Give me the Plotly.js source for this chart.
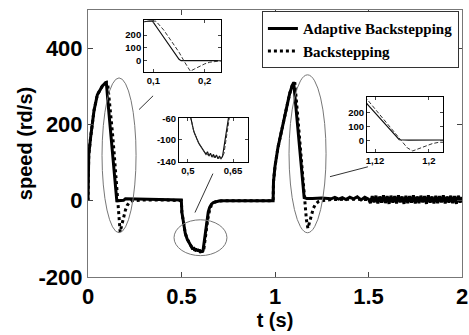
<!DOCTYPE html>
<html>
<head>
<meta charset="utf-8">
<script src="https://cdn.plot.ly/plotly-3.0.1.min.js"></script>
<style>html,body{margin:0;padding:0;background:#fff;}#chart{width:469px;height:335px;}</style>
</head>
<body>
<div id="chart"></div>
<script>
// ---- data ----
var seriesNames = ['Adaptive Backstepping', 'Backstepping'];

var adaptiveT = [0, 0.001, 0.004, 0.014, 0.032, 0.05, 0.077, 0.094, 0.098, 0.11, 0.12, 0.13, 0.14, 0.146, 0.15, 0.154, 0.16, 0.19, 0.2, 0.3, 0.4, 0.499,
  0.502, 0.51, 0.52, 0.53, 0.536, 0.545, 0.55, 0.555, 0.56, 0.565, 0.57, 0.575, 0.58, 0.585, 0.59, 0.595, 0.6, 0.605, 0.61, 0.615,
  0.62, 0.625, 0.63, 0.635, 0.643, 0.65, 0.66, 0.67, 0.68, 0.7, 0.72, 0.8, 0.9, 0.99,
  0.992, 1.0, 1.016, 1.035, 1.052, 1.078, 1.092, 1.1, 1.11, 1.12, 1.13, 1.14, 1.15, 1.156, 1.17, 1.19, 1.2, 1.25,
  1.3, 1.32, 1.34, 1.36, 1.38, 1.4, 1.42, 1.44, 1.46, 1.48, 1.5,
  1.51, 1.52, 1.53, 1.54, 1.55, 1.56, 1.57, 1.58, 1.59, 1.6, 1.61, 1.62, 1.63, 1.64, 1.65, 1.66, 1.67, 1.68, 1.69, 1.7,
  1.71, 1.72, 1.73, 1.74, 1.75, 1.76, 1.77, 1.78, 1.79, 1.8, 1.81, 1.82, 1.83, 1.84, 1.85, 1.86, 1.87, 1.88, 1.89, 1.9,
  1.91, 1.92, 1.93, 1.94, 1.95, 1.96, 1.97, 1.98, 1.99, 2.0];
var adaptiveSpeed = [0, 60, 120, 166, 236, 278, 301, 309, 310, 241, 183, 126, 69, 32, 10, 0, 0, 1, 5, 4, 3, 2,
  -30, -60, -85, -100, -106, -114, -118, -121, -127, -122, -130, -125, -132, -127, -133, -128, -135, -130, -135, -131,
  -112, -92, -72, -55, -30, -18, -9, -5, -3, -1, 0, 0, 0, 0,
  50, 90, 140, 185, 228, 280, 302, 310, 255, 200, 145, 90, 35, 8, 6, 7, 6, 7,
  5, 9, 4, 8, 3, 9, 5, 10, 2, 9, 4,
  -6, 12, -4, 13, -7, 11, -5, 14, -6, 12, -8, 13, -5, 12, -7, 14, -4, 11, -8, 13,
  -6, 12, -5, 14, -7, 11, -6, 13, -4, 12, -8, 14, -5, 11, -7, 13, -6, 12, -4, 14,
  -7, 11, -5, 13, -6, 12, -8, 13, -5, 10];

var backT = [0, 0.001, 0.004, 0.014, 0.032, 0.05, 0.077, 0.094, 0.1, 0.105, 0.12, 0.13, 0.14, 0.15, 0.16, 0.168, 0.172, 0.18, 0.19, 0.2, 0.21, 0.22, 0.235, 0.3, 0.4, 0.499,
  0.502, 0.51, 0.52, 0.53, 0.536, 0.545, 0.55, 0.56, 0.57, 0.58, 0.59, 0.6, 0.61, 0.615,
  0.62, 0.625, 0.63, 0.635, 0.64, 0.65, 0.66, 0.67, 0.68, 0.7, 0.72, 0.8, 0.9, 0.99,
  0.992, 1.0, 1.016, 1.035, 1.052, 1.078, 1.092, 1.1, 1.106, 1.12, 1.13, 1.14, 1.15, 1.16, 1.168, 1.176, 1.185, 1.195, 1.205, 1.215, 1.23, 1.25,
  1.3, 1.4, 1.5, 1.6, 1.7, 1.8, 1.9, 2.0];
var backSpeed = [0, 60, 120, 166, 236, 278, 301, 309, 310, 308, 240, 182, 124, 66, -5, -60, -82, -65, -43, -25, -12, -5, 0, 2, 2, 0,
  -30, -60, -85, -100, -106, -114, -118, -126, -129, -131, -132, -134, -133, -131,
  -125, -105, -85, -66, -50, -25, -12, -6, -3, -1, 0, 0, 0, 0,
  50, 90, 140, 185, 228, 280, 302, 308, 310, 230, 172, 114, 56, -2, -50, -72, -55, -35, -20, -10, -3, 0,
  3, 4, 3, 4, 3, 4, 3, 3];

// tick values and labels
var mainXTicks = [0, 0.5, 1, 1.5, 2], mainXText = ['0', '0.5', '1', '1.5', '2'];
var mainYTicks = [-200, 0, 200, 400], mainYText = ['-200', '0', '200', '400'];
var inset1XTicks = [0.1, 0.2], inset1XText = ['0,1', '0,2'];
var inset1YTicks = [0, 100, 200], inset1YText = ['0', '100', '200'];
var inset2XTicks = [0.5, 0.65], inset2XText = ['0,5', '0,65'];
var inset2YTicks = [-60, -100, -140], inset2YText = ['-60', '-100', '-140'];
var inset3XTicks = [1.12, 1.2], inset3XText = ['1,12', '1,2'];
var inset3YTicks = [0, 100, 200], inset3YText = ['0', '100', '200'];

// ---- traces ----
var traces = [
  {x: adaptiveT, y: adaptiveSpeed, name: seriesNames[0], type: 'scatter', mode: 'lines',
   line: {color: '#000', width: 3}, xaxis: 'x', yaxis: 'y'},
  {x: backT, y: backSpeed, name: seriesNames[1], type: 'scatter', mode: 'lines',
   line: {color: '#000', width: 3, dash: 'dot'}, xaxis: 'x', yaxis: 'y'}
];
var insetAxes = [['x2', 'y2'], ['x3', 'y3'], ['x4', 'y4']];
insetAxes.forEach(function (a) {
  traces.push({x: adaptiveT, y: adaptiveSpeed, type: 'scatter', mode: 'lines', showlegend: false,
    line: {color: '#111', width: 1.2}, xaxis: a[0], yaxis: a[1], hoverinfo: 'skip'});
  traces.push({x: backT, y: backSpeed, type: 'scatter', mode: 'lines', showlegend: false,
    line: {color: '#333', width: 1, dash: '4px,2px'}, xaxis: a[0], yaxis: a[1], hoverinfo: 'skip'});
});

var FONT = 'Liberation Sans, Arial, sans-serif';
function insetAxis(dom, anchor, rng, tv, tt) {
  return {domain: dom, anchor: anchor, range: rng, tickvals: tv, ticktext: tt, ticks: 'inside', ticklen: 3,
    showline: true, linecolor: '#000', linewidth: 1, mirror: 'ticks', showgrid: false, zeroline: false,
    tickfont: {family: FONT, size: 9.5, weight: 'bold', color: '#000'}, fixedrange: true};
}

var ellipseStyle = {color: '#777', width: 1};
var layout = {
  width: 469, height: 335,
  margin: {l: 88, r: 7, t: 10, b: 58},
  paper_bgcolor: '#fff', plot_bgcolor: '#fff',
  font: {family: FONT, color: '#000'},
  showlegend: true,
  legend: {x: 0.465, y: 0.995, xanchor: 'left', yanchor: 'top', bgcolor: '#fff',
    bordercolor: '#333', borderwidth: 1, itemwidth: 30, tracegroupgap: 0,
    font: {family: 'Liberation Serif, Times New Roman, serif', size: 15, weight: 'bold', color: '#000'}},
  xaxis: {domain: [0, 1], anchor: 'y', range: [0, 2], tickvals: mainXTicks, ticktext: mainXText, ticks: 'inside', ticklen: 5,
    showline: true, linecolor: '#777', linewidth: 1, mirror: 'ticks', showgrid: false, zeroline: false,
    tickfont: {family: FONT, size: 22, weight: 'bold', color: '#000'},
    title: {text: 't (s)', font: {family: FONT, size: 20, weight: 'bold', color: '#000'}, standoff: 2}},
  yaxis: {domain: [0, 1], anchor: 'x', range: [-200, 500], tickvals: mainYTicks, ticktext: mainYText, ticks: 'inside', ticklen: 5,
    showline: true, linecolor: '#777', linewidth: 1, mirror: 'ticks', showgrid: false, zeroline: false,
    tickfont: {family: FONT, size: 22, weight: 'bold', color: '#000'},
    title: {text: 'speed (rd/s)', font: {family: FONT, size: 20, weight: 'bold', color: '#000'}, standoff: 0}},
  xaxis2: insetAxis([0.150, 0.356], 'y2', [0.082, 0.232], inset1XTicks, inset1XText),
  yaxis2: insetAxis([0.768, 0.963], 'x2', [-88, 318], inset1YTicks, inset1YText),
  xaxis3: insetAxis([0.243, 0.428], 'y3', [0.47, 0.70], inset2XTicks, inset2XText),
  yaxis3: insetAxis([0.431, 0.596], 'x3', [-141, -59], inset2YTicks, inset2YText),
  xaxis4: insetAxis([0.746, 0.949], 'y4', [1.108, 1.221], inset3XTicks, inset3XText),
  yaxis4: insetAxis([0.468, 0.674], 'x4', [-80, 314], inset3YTicks, inset3YText),
  shapes: [
    {type: 'circle', xref: 'x', yref: 'y', x0: 0.075, x1: 0.257, y0: -84, y1: 322, line: ellipseStyle},
    {type: 'circle', xref: 'x', yref: 'y', x0: 0.46, x1: 0.743, y0: -144, y1: -50, line: ellipseStyle},
    {type: 'circle', xref: 'x', yref: 'y', x0: 1.075, x1: 1.273, y0: -84, y1: 330, line: ellipseStyle},
    {type: 'line', xref: 'x', yref: 'y', x0: 0.273, y0: 239, x1: 0.348, y1: 275, line: {color: '#333', width: 1}},
    {type: 'line', xref: 'x', yref: 'y', x0: 0.572, y0: -31, x1: 0.668, y1: 71, line: {color: '#333', width: 1}},
    {type: 'line', xref: 'x', yref: 'y', x0: 1.294, y0: 63, x1: 1.497, y1: 89, line: {color: '#333', width: 1}}
  ]
};

Plotly.newPlot('chart', traces, layout, {displayModeBar: false, staticPlot: true});
</script>
</body>
</html>
